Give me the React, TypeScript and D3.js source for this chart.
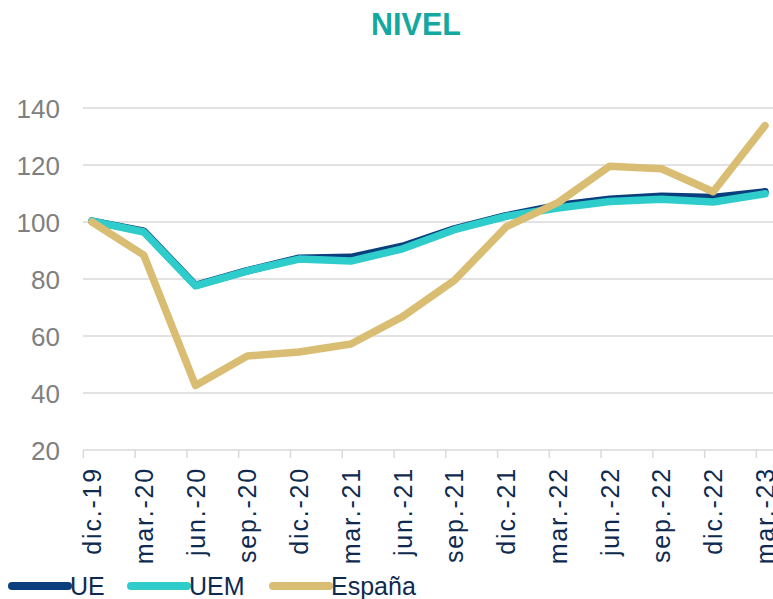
import React from "react";
import * as d3 from "d3";

const categories = ["dic.-19","mar.-20","jun.-20","sep.-20","dic.-20","mar.-21","jun.-21","sep.-21","dic.-21","mar.-22","jun.-22","sep.-22","dic.-22","mar.-23"];
const ue = [100.3, 96.8, 77.8, 82.9, 87.3, 87.6, 91.5, 97.6, 102.2, 105.8, 108.0, 109.0, 108.6, 110.6];
const uem = [100.3, 96.5, 77.6, 82.8, 87.0, 86.3, 90.6, 97.3, 102.0, 104.9, 107.2, 108.0, 107.0, 109.9];
const espana = [100.0, 88.4, 42.6, 53.0, 54.4, 57.2, 66.8, 79.5, 98.3, 106.8, 119.6, 118.7, 110.6, 133.8];
const yTicks = [20, 40, 60, 80, 100, 120, 140];

const seriesList = [
  { name: "UE", values: ue, color: "#0a3f7d" },
  { name: "UEM", values: uem, color: "#2ecccb" },
  { name: "España", values: espana, color: "#d8bd73" },
];

export default function App() {
  const W = 773, H = 599;
  const x = d3.scaleLinear().domain([0, categories.length - 1]).range([92, 765]);
  const y = d3.scaleLinear().domain([20, 140]).range([450, 108]);
  const tickOffset = -8.6;
  const line = (vals: number[]) =>
    d3.line<number>().x((_, i) => x(i)).y((v) => y(v))(vals) || "";
  const legendX = [12, 131, 273];
  return (
    <svg width={W} height={H} style={{ position: "absolute", left: 0, top: 0, fontFamily: "Liberation Sans, Arial, sans-serif" }}>
      <rect width={W} height={H} fill="#fff" />
      <text x={416} y={35} textAnchor="middle" fontSize={30.5} fontWeight="bold" fill="#13a8a0">NIVEL</text>
      {yTicks.map((t) => (
        <g key={t}>
          <line x1={83} x2={W} y1={y(t)} y2={y(t)} stroke="#d9d9d9" strokeWidth={1.5} />
          <text x={60} y={y(t) + 9.5} textAnchor="end" fontSize={26} fill="#7f7f7f">{t}</text>
        </g>
      ))}
      {categories.map((c, i) => (
        <g key={c}>
          <line x1={x(i) + tickOffset} x2={x(i) + tickOffset} y1={450} y2={458} stroke="#d9d9d9" strokeWidth={1.5} />
          <text transform={`translate(${x(i) + 9},467) rotate(-90)`} textAnchor="end" fontSize={25} letterSpacing={1.8} fill="#0e2a4f">{c}</text>
        </g>
      ))}
      {seriesList.map((s) => (
        <path key={s.name} d={line(s.values)} fill="none" stroke={s.color} strokeWidth={7.5} strokeLinejoin="round" strokeLinecap="round" />
      ))}
      {seriesList.map((s, i) => (
        <g key={s.name}>
          <line x1={legendX[i]} x2={legendX[i] + 56} y1={586} y2={586} stroke={s.color} strokeWidth={8} strokeLinecap="round" />
          <text x={legendX[i] + 58} y={595} fontSize={25} fill="#0e2a4f">{s.name}</text>
        </g>
      ))}
    </svg>
  );
}
